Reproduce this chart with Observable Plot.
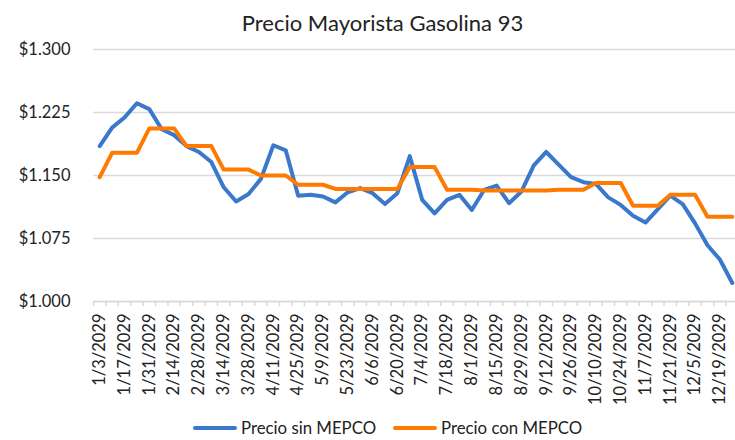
<!DOCTYPE html>
<html>
<head>
<meta charset="utf-8">
<script src="https://cdn.jsdelivr.net/npm/d3@7"></script>
<script src="https://cdn.jsdelivr.net/npm/@observablehq/plot@0.6"></script>
<style>
  html, body { margin: 0; padding: 0; background: #fff; }
  body { width: 735px; height: 440px; overflow: hidden; font-family: Lato, "Open Sans", sans-serif; color: #222; }
  #title { height: 40px; line-height: 46px; font-size: 22px; text-align: center; padding-left: 30px; box-sizing: border-box; white-space: nowrap; }
  #legend { position: relative; height: 25px; font-size: 16.8px; }
  .item { position: absolute; top: 0; height: 25px; display: flex; align-items: center; white-space: nowrap; }
  .sw { width: 44px; height: 4px; border-radius: 2px; margin-right: 4px; }
</style>
</head>
<body>
<div id="title">Precio Mayorista Gasolina 93</div>
<div id="chart"></div>
<div id="legend"></div>
<script>
const dates = [
  "1/3/2029","1/10/2029","1/17/2029","1/24/2029","1/31/2029","2/7/2029","2/14/2029","2/21/2029",
  "2/28/2029","3/7/2029","3/14/2029","3/21/2029","3/28/2029","4/4/2029","4/11/2029","4/18/2029",
  "4/25/2029","5/2/2029","5/9/2029","5/16/2029","5/23/2029","5/30/2029","6/6/2029","6/13/2029",
  "6/20/2029","6/27/2029","7/4/2029","7/11/2029","7/18/2029","7/25/2029","8/1/2029","8/8/2029",
  "8/15/2029","8/22/2029","8/29/2029","9/5/2029","9/12/2029","9/19/2029","9/26/2029","10/3/2029",
  "10/10/2029","10/17/2029","10/24/2029","10/31/2029","11/7/2029","11/14/2029","11/21/2029","11/28/2029",
  "12/5/2029","12/12/2029","12/19/2029","12/26/2029"
];
const precioSinMEPCO = [
  1.185, 1.207, 1.219, 1.236, 1.229, 1.205, 1.198, 1.185,
  1.178, 1.166, 1.136, 1.119, 1.128, 1.146, 1.186, 1.180,
  1.126, 1.127, 1.125, 1.118, 1.130, 1.135, 1.129, 1.116,
  1.129, 1.173, 1.121, 1.105, 1.121, 1.127, 1.109, 1.133,
  1.138, 1.117, 1.131, 1.162, 1.178, 1.163, 1.148, 1.142,
  1.140, 1.124, 1.115, 1.102, 1.094, 1.110, 1.126, 1.116,
  1.093, 1.067, 1.050, 1.022
];
const precioConMEPCO = [
  1.148, 1.177, 1.177, 1.177, 1.206, 1.206, 1.206, 1.185,
  1.185, 1.185, 1.157, 1.157, 1.157, 1.150, 1.150, 1.150,
  1.139, 1.139, 1.139, 1.134, 1.134, 1.134, 1.134, 1.134,
  1.134, 1.160, 1.160, 1.160, 1.133, 1.133, 1.133, 1.132,
  1.132, 1.132, 1.132, 1.132, 1.132, 1.133, 1.133, 1.133,
  1.141, 1.141, 1.141, 1.114, 1.114, 1.114, 1.127, 1.127,
  1.127, 1.101, 1.101, 1.101
];
const yTicks = [1.000, 1.075, 1.150, 1.225, 1.300];
const seriesNames = ["Precio sin MEPCO", "Precio con MEPCO"];
const seriesColors = ["#3a78cc", "#ff7a00"];

const rows = dates.map((d, i) => ({i, date: d, sin: precioSinMEPCO[i], con: precioConMEPCO[i]}));
const labelTicks = dates.map((d, i) => i).filter(i => i % 2 === 0);
const boundaries = d3.range(dates.length + 1).map(i => i - 0.5);

const chart = Plot.plot({
  width: 735,
  height: 375,
  marginLeft: 93,
  marginRight: -3,
  marginTop: 9,
  marginBottom: 114,
  style: {fontFamily: "Lato, 'Open Sans', sans-serif", fontSize: "16.5px", color: "#222", background: "#fff", overflow: "visible"},
  x: {type: "linear", domain: [-0.5, dates.length - 0.5]},
  y: {domain: [1.0, 1.3]},
  marks: [
    Plot.gridY(yTicks, {stroke: "#d9d9d9", strokeOpacity: 1, strokeWidth: 1.5}),
    Plot.ruleY([1.0], {stroke: "#d9d9d9", strokeWidth: 1.5}),
    Plot.axisY(yTicks, {tickSize: 0, tickPadding: 23, tickFormat: d => "$" + d.toFixed(3), label: null, fontSize: 16.5}),
    Plot.axisX(boundaries, {tickSize: 5, stroke: "#d9d9d9", strokeWidth: 1.5, fill: "none", label: null}),
    Plot.axisX(labelTicks, {tickSize: 0, tickPadding: 12, tickRotate: -90, tickFormat: i => dates[i], label: null, fontSize: 16.5}),
    Plot.lineY(rows, {x: "i", y: "sin", stroke: seriesColors[0], strokeWidth: 4, strokeLinejoin: "round", strokeLinecap: "round"}),
    Plot.lineY(rows, {x: "i", y: "con", stroke: seriesColors[1], strokeWidth: 4, strokeLinejoin: "round", strokeLinecap: "round"})
  ]
});
document.getElementById("chart").appendChild(chart);

const legend = document.getElementById("legend");
const lefts = [193, 393];
seriesNames.forEach((name, k) => {
  const item = document.createElement("div");
  item.className = "item";
  item.style.left = lefts[k] + "px";
  const sw = document.createElement("div");
  sw.className = "sw";
  sw.style.background = seriesColors[k];
  const tx = document.createElement("span");
  tx.textContent = name;
  item.appendChild(sw);
  item.appendChild(tx);
  legend.appendChild(item);
});
</script>
</body>
</html>
